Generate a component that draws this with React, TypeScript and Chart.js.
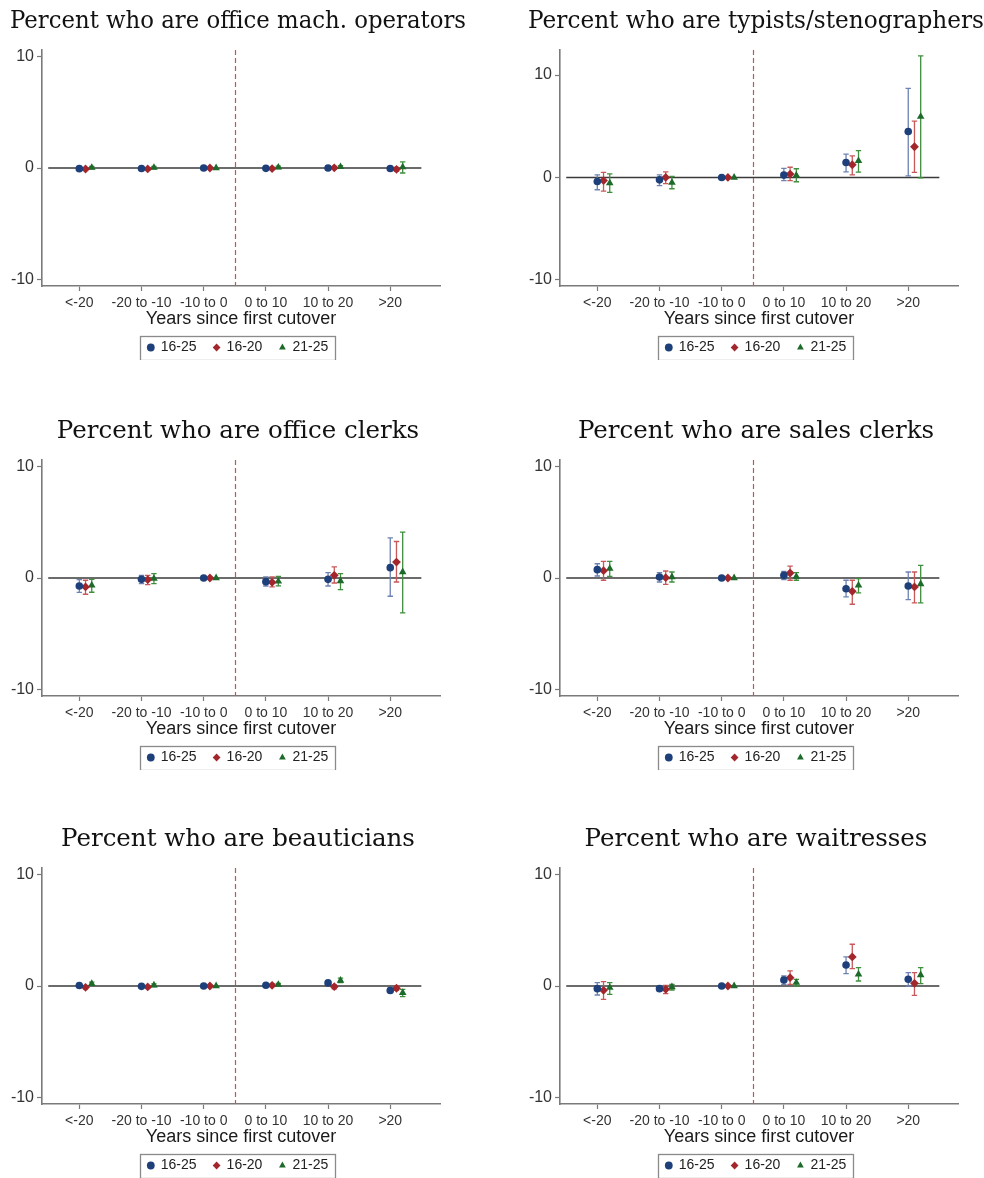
import React, { useEffect, useRef } from 'react';
import { Chart, registerables } from 'chart.js';

Chart.register(...registerables);

// Event-time bins on the x axis
const periods = ['<-20', '-20 to -10', '-10 to 0', '0 to 10', '10 to 20', '>20'];
const ageGroups = ['16-25', '16-20', '21-25'];
const yTickValues = [-10, 0, 10];

// Each entry: [estimate, lower CI, upper CI]
const machOps1625 = [[-0.06, -0.16, 0.04], [-0.05, -0.15, 0.05], [0, 0, 0], [-0.03, -0.13, 0.07], [0, -0.1, 0.1], [-0.04, -0.2, 0.12]];
const machOps1620 = [[-0.09, -0.2, 0.02], [-0.08, -0.18, 0.02], [0, 0, 0], [-0.05, -0.15, 0.05], [0.02, -0.1, 0.14], [-0.12, -0.3, 0.06]];
const machOps2125 = [[0.03, -0.08, 0.14], [0.04, -0.07, 0.15], [0, 0, 0], [0.06, -0.05, 0.17], [0.1, -0.02, 0.22], [0.08, -0.45, 0.55]];

const typists1625 = [[-0.4, -1.2, 0.26], [-0.23, -0.8, 0.26], [0, 0, 0], [0.23, -0.3, 0.88], [1.46, 0.55, 2.28], [4.49, 0.16, 8.7]];
const typists1620 = [[-0.3, -1.33, 0.5], [0, -0.6, 0.55], [0, 0, 0], [0.33, -0.3, 1.0], [1.24, 0.26, 2.1], [3.0, 0.5, 5.5]];
const typists2125 = [[-0.55, -1.46, 0.36], [-0.5, -1.1, 0.1], [0, 0, 0], [0.2, -0.42, 0.85], [1.63, 0.52, 2.63], [5.95, -0.03, 11.87]];

const officeClerks1625 = [[-0.72, -1.3, -0.15], [-0.12, -0.5, 0.24], [0, 0, 0], [-0.33, -0.72, 0.1], [-0.12, -0.72, 0.48], [0.93, -1.64, 3.6]];
const officeClerks1620 = [[-0.8, -1.46, -0.2], [-0.15, -0.6, 0.24], [0, 0, 0], [-0.39, -0.8, 0.1], [0.24, -0.45, 1.0], [1.43, -0.36, 3.28]];
const officeClerks2125 = [[-0.66, -1.28, -0.12], [-0.06, -0.5, 0.4], [0, 0, 0], [-0.3, -0.7, 0.15], [-0.27, -1.05, 0.4], [0.54, -3.13, 4.12]];

const salesClerks1625 = [[0.75, 0.18, 1.28], [0.09, -0.36, 0.48], [0, 0, 0], [0.24, -0.15, 0.6], [-0.96, -1.7, -0.2], [-0.72, -1.94, 0.54]];
const salesClerks1620 = [[0.66, -0.2, 1.49], [0.03, -0.57, 0.63], [0, 0, 0], [0.45, -0.2, 1.07], [-1.2, -2.36, -0.2], [-0.8, -2.24, 0.54]];
const salesClerks2125 = [[0.84, 0.15, 1.49], [0.09, -0.36, 0.54], [0, 0, 0], [0.12, -0.2, 0.48], [-0.66, -1.33, -0.06], [-0.54, -2.24, 1.13]];

const beauticians1625 = [[0.05, -0.05, 0.15], [-0.03, -0.12, 0.06], [0, 0, 0], [0.07, -0.03, 0.17], [0.28, 0.15, 0.4], [-0.4, -0.6, -0.18]];
const beauticians1620 = [[-0.12, -0.25, 0.02], [-0.08, -0.2, 0.04], [0, 0, 0], [0.06, -0.06, 0.18], [-0.06, -0.25, 0.1], [-0.2, -0.38, -0.02]];
const beauticians2125 = [[0.2, 0.05, 0.35], [0.07, -0.05, 0.19], [0, 0, 0], [0.12, 0.0, 0.24], [0.5, 0.3, 0.7], [-0.6, -0.95, -0.3]];

const waitresses1625 = [[-0.24, -0.81, 0.3], [-0.24, -0.45, 0], [0, 0, 0], [0.54, 0.15, 0.9], [1.89, 1.11, 2.61], [0.6, 0, 1.2]];
const waitresses1620 = [[-0.39, -1.2, 0.39], [-0.3, -0.69, 0.06], [0, 0, 0], [0.75, 0.15, 1.35], [2.61, 1.56, 3.75], [0.24, -0.84, 1.2]];
const waitresses2125 = [[-0.15, -0.75, 0.3], [-0.09, -0.36, 0.15], [0, 0, 0], [0.3, 0, 0.6], [1.05, 0.45, 1.65], [0.99, 0.21, 1.65]];

const markerColors = ['#1d3f7a', '#a3262c', '#1d6a2a'];
const ciColors = ['#6d82b3', '#c8585a', '#3f8f3f'];
const markerStyles = ['circle', 'rectRot', 'triangle'];
const markerRadii = [3.8, 4.4, 4.4];

const CANVAS_W = 466;
const CANVAS_H = 360;
const SANS = '"Liberation Sans", Arial, sans-serif';

const referenceLines = {
  id: 'referenceLines',
  beforeDatasetsDraw(chart: any) {
    const { ctx, chartArea, scales } = chart;
    const x = scales.x;
    const y = scales.y;
    ctx.save();
    // horizontal zero line across the bins
    ctx.strokeStyle = '#3a3a3a';
    ctx.lineWidth = 1.6;
    ctx.beginPath();
    ctx.moveTo(x.getPixelForValue(-0.5), y.getPixelForValue(0));
    ctx.lineTo(x.getPixelForValue(5.5), y.getPixelForValue(0));
    ctx.stroke();
    // dashed line at the first cutover
    ctx.strokeStyle = '#b85a55';
    ctx.lineWidth = 1.2;
    ctx.setLineDash([5, 3]);
    const cx = Math.round(x.getPixelForValue(2.5)) + 0.5;
    ctx.beginPath();
    ctx.moveTo(cx, chartArea.top);
    ctx.lineTo(cx, chartArea.bottom);
    ctx.stroke();
    ctx.restore();
  },
};

const errorBars = {
  id: 'errorBars',
  beforeDatasetsDraw(chart: any) {
    const { ctx, scales } = chart;
    const x = scales.x;
    const y = scales.y;
    ctx.save();
    chart.data.datasets.forEach((ds: any) => {
      if (!ds.ciLow) return;
      ctx.strokeStyle = ds.ciColor;
      ctx.lineWidth = 1.3;
      ds.data.forEach((pt: any, i: number) => {
        const lo = ds.ciLow[i];
        const hi = ds.ciHigh[i];
        if (lo === hi) return;
        const px = x.getPixelForValue(pt.x);
        const yl = y.getPixelForValue(lo);
        const yh = y.getPixelForValue(hi);
        ctx.beginPath();
        ctx.moveTo(px, yl);
        ctx.lineTo(px, yh);
        ctx.moveTo(px - 2.7, yl);
        ctx.lineTo(px + 2.7, yl);
        ctx.moveTo(px - 2.7, yh);
        ctx.lineTo(px + 2.7, yh);
        ctx.stroke();
      });
    });
    ctx.restore();
  },
};

const legendFrame = {
  id: 'legendFrame',
  afterDraw(chart: any) {
    const boxes = chart.legend && chart.legend.legendHitBoxes;
    if (!boxes || !boxes.length) return;
    const { ctx } = chart;
    const left = Math.min(...boxes.map((b: any) => b.left)) - 8;
    const right = Math.max(...boxes.map((b: any) => b.left + b.width)) + 7;
    const top = boxes[0].top - 5;
    const bottom = boxes[0].top + boxes[0].height + 5;
    ctx.save();
    ctx.strokeStyle = '#8a8a8a';
    ctx.lineWidth = 1.3;
    ctx.strokeRect(Math.round(left) + 0.5, Math.round(top) + 0.5, Math.round(right - left), Math.round(bottom - top));
    ctx.restore();
  },
};

type PanelProps = {
  title: string;
  series: number[][][];
  yMax: number;
  left: number;
  top: number;
};

function Panel({ title, series, yMax, left, top }: PanelProps) {
  const ref = useRef<HTMLCanvasElement | null>(null);

  useEffect(() => {
    if (!ref.current) return;
    const datasets = series.map((s, k) => ({
      label: ageGroups[k],
      data: s.map((v, i) => ({ x: i + k * 0.1, y: v[0] })),
      ciLow: s.map((v) => v[1]),
      ciHigh: s.map((v) => v[2]),
      ciColor: ciColors[k],
      pointStyle: markerStyles[k],
      pointRadius: markerRadii[k],
      backgroundColor: markerColors[k],
      borderColor: markerColors[k],
      borderWidth: 0,
      showLine: false,
      yAxisID: 'y',
    }));

    const axisGray = '#7a7a7a';
    const chart = new Chart(ref.current, {
      type: 'scatter',
      data: { datasets } as any,
      plugins: [referenceLines, errorBars, legendFrame],
      options: {
        animation: false,
        responsive: false,
        events: [],
        layout: { padding: { left: 10, right: 0, top: 0, bottom: -4.5 } },
        plugins: {
          title: {
            display: true,
            text: title,
            color: '#111',
            font: { family: '"DejaVu Serif", serif', size: 24.5, weight: 'normal' },
            padding: { top: 7, bottom: 13.6 },
          },
          legend: {
            display: true,
            position: 'bottom',
            labels: {
              usePointStyle: true,
              boxWidth: 6,
              boxHeight: 5.5,
              padding: 17,
              color: '#222',
              font: { family: SANS, size: 14 },
            },
          },
          tooltip: { enabled: false },
        },
        scales: {
          x: {
            type: 'linear',
            min: -0.6,
            max: 5.8,
            afterBuildTicks: (scale: any) => {
              scale.ticks = periods.map((_, i) => ({ value: i }));
            },
            ticks: {
              autoSkip: false,
              maxRotation: 0,
              padding: 4,
              color: '#333',
              font: { family: SANS, size: 14 },
              callback: (v: any) => periods[v] ?? '',
            },
            grid: {
              display: true,
              drawOnChartArea: false,
              drawTicks: true,
              tickLength: 5,
              tickColor: axisGray,
              tickWidth: 1.2,
            },
            border: { display: true, color: axisGray, width: 1.6 },
            title: {
              display: true,
              text: 'Years since first cutover',
              color: '#1a1a1a',
              font: { family: SANS, size: 18 },
              padding: { top: -7.1, bottom: -6.8 },
            },
          },
          y: {
            type: 'linear',
            position: 'left',
            min: -10.6,
            max: yMax,
            afterBuildTicks: (scale: any) => {
              scale.ticks = yTickValues.map((v) => ({ value: v }));
            },
            afterFit: (scale: any) => {
              scale.width = 32;
            },
            ticks: {
              padding: 3,
              color: '#333',
              font: { family: SANS, size: 16 },
            },
            grid: {
              display: true,
              drawOnChartArea: false,
              drawTicks: true,
              tickLength: 5,
              tickColor: axisGray,
              tickWidth: 1.2,
            },
            border: { display: true, color: axisGray, width: 1.6 },
          },
          // empty right-hand margin so the title sits over the plot as a whole
          yRight: {
            type: 'linear',
            position: 'right',
            display: true,
            min: -10.6,
            max: yMax,
            grid: { display: false },
            border: { display: false },
            ticks: { display: false },
            afterFit: (scale: any) => {
              scale.width = 26;
            },
          },
        },
      } as any,
    });
    return () => chart.destroy();
  }, [title, series, yMax]);

  return (
    <div style={{ position: 'absolute', left, top, width: CANVAS_W, height: CANVAS_H }}>
      <canvas ref={ref} width={CANVAS_W} height={CANVAS_H} style={{ display: 'block', width: CANVAS_W, height: CANVAS_H }} />
    </div>
  );
}

export default function App() {
  return (
    <div style={{ position: 'absolute', left: 0, top: 0, width: 984, height: 1178, background: '#fff', overflow: 'hidden' }}>
      <Panel title="Percent who are office mach. operators" series={[machOps1625, machOps1620, machOps2125]} yMax={10.6} left={0} top={0} />
      <Panel title="Percent who are typists/stenographers" series={[typists1625, typists1620, typists2125]} yMax={12.45} left={518} top={0} />
      <Panel title="Percent who are office clerks" series={[officeClerks1625, officeClerks1620, officeClerks2125]} yMax={10.6} left={0} top={410} />
      <Panel title="Percent who are sales clerks" series={[salesClerks1625, salesClerks1620, salesClerks2125]} yMax={10.6} left={518} top={410} />
      <Panel title="Percent who are beauticians" series={[beauticians1625, beauticians1620, beauticians2125]} yMax={10.6} left={0} top={818} />
      <Panel title="Percent who are waitresses" series={[waitresses1625, waitresses1620, waitresses2125]} yMax={10.6} left={518} top={818} />
    </div>
  );
}
